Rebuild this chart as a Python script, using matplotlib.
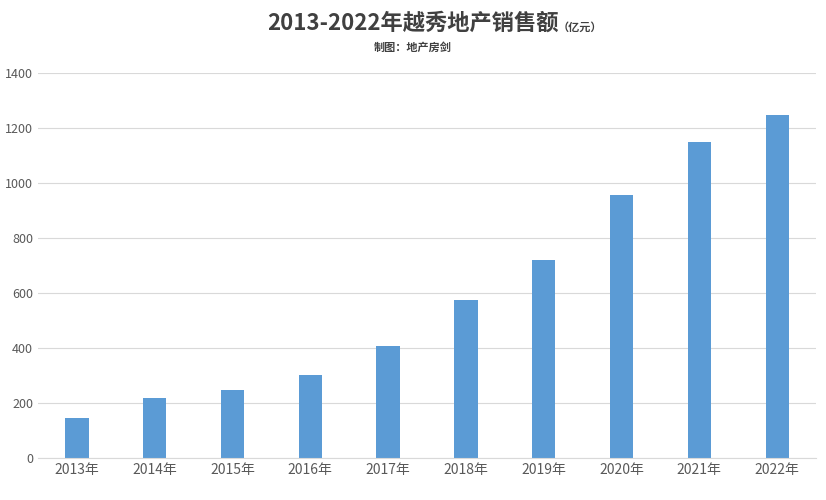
import matplotlib
matplotlib.use("Agg")
import matplotlib.pyplot as plt

plt.rcParams['font.family'] = ['Noto Sans CJK SC', 'DejaVu Sans']

years = ["2013年","2014年","2015年","2016年","2017年","2018年","2019年","2020年","2021年","2022年"]
sales = [145, 218, 247, 302, 407, 575, 720, 956, 1149, 1247]

fig = plt.figure(figsize=(8.26, 5.0), dpi=100)
ax = fig.add_axes([0.046, 0.084, 0.942, 0.77])
ax.bar(range(len(years)), sales, width=0.3, color='#5b9bd5', zorder=2)
ax.set_ylim(0, 1400)
ax.set_yticks(range(0, 1401, 200))
ax.set_xlim(-0.5, len(years) - 0.5)
ax.set_xticks(range(len(years)))
ax.set_xticklabels(years)
ax.grid(axis='y', color='#d9d9d9', linewidth=0.8, zorder=0)
for s in ['top', 'right', 'left']:
    ax.spines[s].set_visible(False)
ax.spines['bottom'].set_color('#d9d9d9')
ax.tick_params(axis='both', length=0, labelsize=9, colors='#595959')
ax.tick_params(axis='x', labelsize=10)

fig.text(0.5, 0.953, "2013-2022年越秀地产销售额", ha='center', va='center',
         fontsize=16, fontweight='bold', color='#404040')
fig.text(0.675, 0.945, "（亿元）", ha='left', va='center', fontsize=8, fontweight='bold', color='#404040')
fig.text(0.5, 0.905, "制图：地产房剑", ha='center', va='center', fontsize=8, fontweight='bold', color='#404040')

fig.savefig("out.png", dpi=100)
